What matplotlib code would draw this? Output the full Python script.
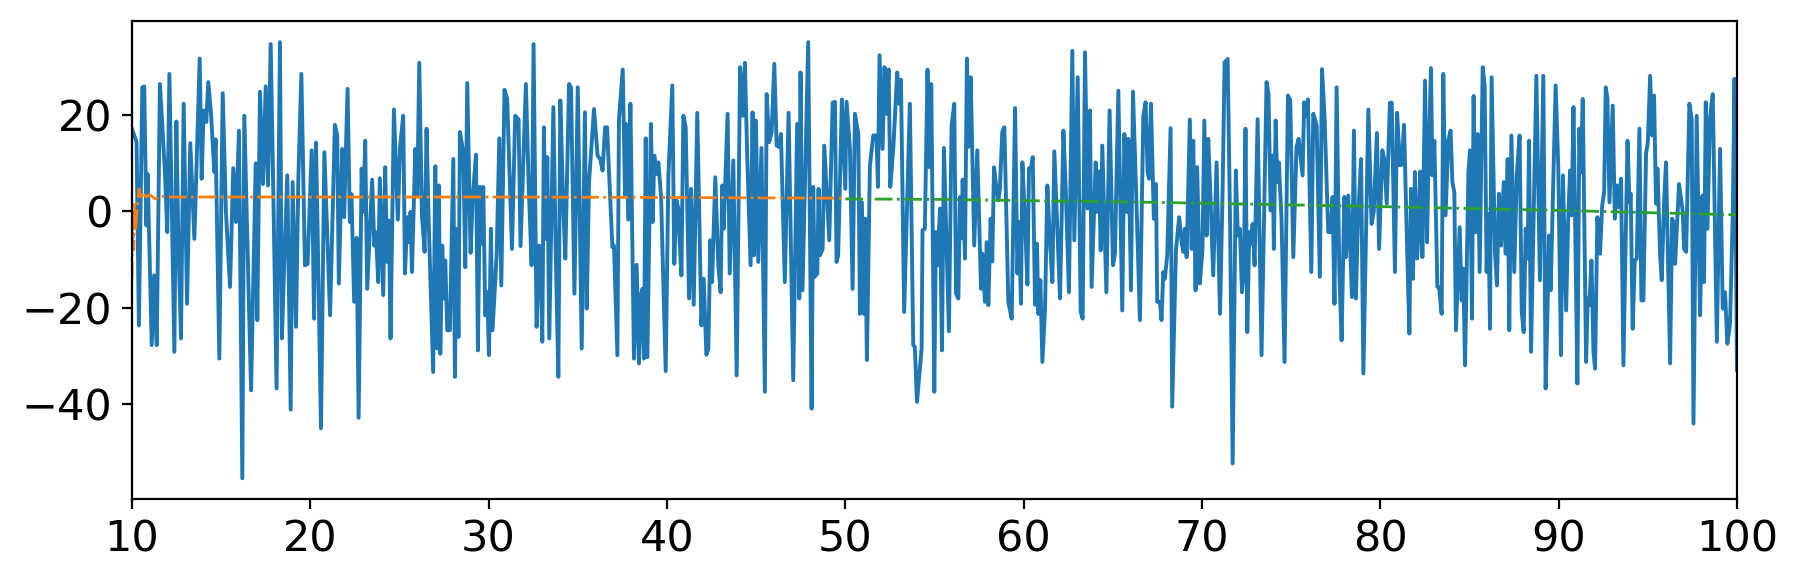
import matplotlib
matplotlib.use("Agg")
import matplotlib.pyplot as plt

# blue signal, turning points
bx = [10.0, 10.26, 10.39, 10.58, 10.69, 10.81, 10.88, 11.11, 11.24, 11.39, 11.57, 11.85, 11.98, 12.10, 12.38, 12.49, 12.60, 12.75, 12.90, 13.09,
      13.27, 13.50, 13.80, 13.91, 14.02, 14.17, 14.28, 14.43, 14.62, 14.69, 14.90, 15.09, 15.27, 15.50, 15.68, 15.83, 16.00, 16.19, 16.30, 16.68,
      16.94, 17.03, 17.18, 17.35, 17.50, 17.63, 17.78, 17.93, 18.11, 18.30, 18.41, 18.54, 18.71, 18.90, 19.01, 19.20, 19.33, 19.50, 19.70, 19.85,
      20.08, 20.21, 20.32, 20.41, 20.60, 20.79, 21.11,
      21.38, 21.51, 21.60, 21.79, 21.90, 22.09, 22.22, 22.31, 22.46, 22.60, 22.71, 22.88, 22.97, 23.08, 23.19, 23.47, 23.59, 23.68, 23.81, 23.90,
      24.09, 24.20, 24.31, 24.41, 24.50, 24.69, 24.91, 25.03, 25.21, 25.31, 25.44, 25.55, 25.62, 25.70, 25.89, 26.00, 26.11, 26.26, 26.41, 26.52,
      26.63, 26.89, 27.01, 27.12, 27.21, 27.29, 27.40, 27.49, 27.57, 27.68, 27.83, 28.02, 28.11, 28.20, 28.31, 28.39, 28.58, 28.69, 28.80, 28.99,
      29.10, 29.29, 29.40, 29.51, 29.60, 29.70, 29.81, 29.92, 30.02, 30.13, 30.22, 30.45, 30.60, 30.71, 30.89, 31.04, 31.31, 31.49, 31.68, 31.79,
      32.09, 32.24, 32.41, 32.52, 32.69, 32.84,
      32.90, 33.01, 33.10, 33.20, 33.29, 33.40, 33.63, 33.76, 33.91, 34.02, 34.19, 34.30, 34.51, 34.62, 34.81, 35.00, 35.22, 35.40, 35.50, 35.63,
      35.91, 36.11, 36.26, 36.39, 36.53, 36.64, 36.75, 36.94, 37.03, 37.22, 37.31, 37.52, 37.65, 37.70, 37.83, 37.95, 38.15, 38.30, 38.43, 38.54,
      38.62, 38.71, 38.81, 38.90, 39.10, 39.20, 39.29, 39.42, 39.52, 39.67, 39.93, 40.08, 40.30, 40.41, 40.53, 40.64, 40.71, 40.81, 40.92, 41.05,
      41.24, 41.35, 41.50, 41.70, 41.93, 42.06, 42.21, 42.32, 42.43, 42.53, 42.71, 42.88, 43.01, 43.10, 43.18, 43.40, 43.52, 43.72, 43.91, 44.10,
      44.24, 44.37, 44.50, 44.69, 44.80, 44.88, 44.99, 45.12, 45.30, 45.49, 45.59, 45.73, 45.87, 46.02, 46.15, 46.30, 46.39, 46.61, 46.82, 47.08,
      47.30, 47.42, 47.49, 47.60, 47.92, 48.11, 48.20, 48.28, 48.43, 48.50, 48.58, 48.73, 48.82, 49.10, 49.29, 49.42, 49.51, 49.60, 49.81, 50.00,
      50.07, 50.26, 50.41, 50.54, 50.73, 50.82, 50.93, 51.04, 51.12, 51.21, 51.38, 51.57, 51.75, 51.83, 51.92, 52.09, 52.20, 52.31, 52.43, 52.52,
      52.69, 52.91, 53.02, 53.12, 53.30, 53.62, 53.81, 53.90, 54.02, 54.28, 54.33, 54.46, 54.61, 54.71, 54.82, 54.99, 55.08, 55.16, 55.31, 55.42,
      55.53,
      55.81, 55.96, 56.11, 56.21, 56.34, 56.43, 56.52, 56.58, 56.71, 56.82, 56.90, 57.03, 57.23, 57.40, 57.61, 57.68, 57.83, 57.93, 58.02, 58.15,
      58.24, 58.34, 58.49, 58.58, 58.67, 58.80, 58.92, 59.14, 59.33, 59.52, 59.65, 59.74, 59.85, 59.93, 60.08, 60.21, 60.30, 60.41, 60.51, 60.64,
      60.75, 60.82, 60.94, 61.05, 61.20, 61.33, 61.48, 61.61, 61.72, 62.04, 62.23, 62.36, 62.54, 62.73, 62.84, 63.03, 63.20, 63.31, 63.44, 63.59,
      63.72, 63.81, 64.04, 64.13, 64.23, 64.32, 64.41, 64.64, 64.82, 65.01, 65.12, 65.31, 65.53, 65.65, 65.78, 65.87, 66.02, 66.13, 66.34, 66.52,
      66.71, 66.84, 66.95, 67.03, 67.14,
      67.30, 67.42, 67.49, 67.64, 67.73, 67.83, 67.92, 68.05, 68.24, 68.33, 68.54, 68.72, 68.86, 68.95, 69.04, 69.14, 69.32, 69.42, 69.51, 69.64,
      69.73, 69.88, 70.03, 70.13, 70.26, 70.35, 70.48, 70.63, 70.82, 71.01, 71.15, 71.27, 71.44, 71.58, 71.72, 71.90, 72.01, 72.13, 72.24, 72.35,
      72.44, 72.54, 72.65, 72.74, 72.84, 72.95, 73.12, 73.34, 73.62, 73.73, 73.85, 73.96, 74.03, 74.13, 74.22, 74.31, 74.46, 74.63, 74.82, 74.95,
      75.12, 75.30, 75.42, 75.64, 75.73, 75.83, 75.94, 76.13, 76.24, 76.43, 76.61, 76.73, 76.87, 77.08, 77.23, 77.32, 77.43, 77.55, 77.70, 77.83,
      77.98, 78.07, 78.20, 78.41, 78.52, 78.63, 78.74,
      78.92, 79.05, 79.33, 79.51, 79.63, 79.81, 79.93, 80.11, 80.22, 80.36, 80.54, 80.64, 80.82, 80.94, 81.10, 81.20, 81.33, 81.48, 81.63, 81.72,
      81.83, 81.94, 82.06, 82.13, 82.24, 82.36, 82.51, 82.62, 82.69, 82.84, 82.92, 83.03, 83.20, 83.29, 83.44, 83.53, 83.66, 83.81, 83.94, 84.04,
      84.15, 84.24, 84.45, 84.56, 84.65, 84.75, 84.94, 85.03, 85.14, 85.23, 85.35, 85.46, 85.57, 85.74, 85.85, 85.96, 86.06, 86.15, 86.24, 86.43,
      86.54, 86.65, 86.77, 86.92, 87.03, 87.14, 87.23, 87.35, 87.51, 87.65, 87.81, 87.93, 88.04, 88.15, 88.26, 88.34, 88.45, 88.75, 88.95, 89.14,
      89.27, 89.38, 89.46, 89.55, 89.83, 89.98, 90.13, 90.24,
      90.42, 90.53, 90.64, 90.73, 90.83, 90.92, 91.05, 91.16, 91.24, 91.35, 91.54, 91.63, 91.72, 91.84, 91.95, 92.04, 92.17, 92.32, 92.44, 92.55,
      92.64, 92.73, 92.85, 93.03, 93.15, 93.26, 93.35, 93.50, 93.63, 93.86, 93.97, 94.04, 94.15, 94.27, 94.38, 94.53, 94.64, 94.75, 94.90, 95.00,
      95.13, 95.24, 95.35, 95.46, 95.54, 95.69, 95.78, 95.91, 96.02, 96.25, 96.36, 96.44, 96.53, 96.75, 96.96, 97.03, 97.15, 97.33, 97.46, 97.56,
      97.74, 97.93, 98.06, 98.15, 98.25, 98.34, 98.49, 98.64, 98.87, 99.05, 99.20, 99.33, 99.46, 99.61, 99.76, 99.86, 100.0]
by = [17.2, 14.4, -23.7, 25.8, 26.0, -2.9, 7.8, -27.8, -13.3, -27.8, 26.5, 8.2, -4.3, 28.6, -29.2, 18.7, -5.7, -26.4, 22.4, -19.2,
      14.2, -5.7, 31.8, 6.8, 21.0, 18.6, 26.9, 20.6, 8.2, 15.0, -30.6, 24.6, -0.1, -15.7, 9.0, -2.2, 16.8, -55.5, 19.9, -37.2,
      10.0, -22.6, 24.9, 5.7, 26.0, 5.4, 34.8, 3.3, -36.8, 35.2, -26.4, -10.9, 7.5, -41.2, 6.1, -24.0, 6.8, 28.6, -11.2, -10.9,
      12.7, -22.3, 14.3, -3.6, -45.1, 12.3, -21.6,
      18.0, 15.8, -15.0, 13.0, -1.2, 25.5, -2.2, 3.6, -18.8, -5.5, -42.9, 8.9, -0.1, 14.7, -16.1, 6.6, -7.1, -4.3, -14.7, 6.9,
      -17.4, 9.2, -10.5, -1.9, -26.4, 21.2, -1.7, 13.2, 19.9, -12.9, -1.2, -6.4, -0.1, -12.6, 13.0, 3.3, 30.9, -0.8, -8.4, 17.2,
      -0.8, -33.4, 9.4, -28.5, 5.4, -29.6, -7.1, -18.1, -10.2, -24.7, -24.7, 10.9, -34.4, -3.6, -26.1, 16.5, 12.3, -11.6, 26.7, -8.6,
      2.3, 11.8, -28.9, 5.1, -6.7, 5.1, -21.6, -16.8, -29.9, -3.6, -24.7, -9.1, 15.2, -15.4, 25.3, 23.4, -7.8, 19.9, 19.1, -7.2,
      26.5, 6.1, -11.2, 34.8, -24.0, -7.1,
      -7.8, -27.1, 17.5, -5.7, 11.3, -26.4, 21.7, -7.8, -34.4, 23.1, 0.6, -9.8, 26.5, 25.8, -17.1, 25.8, -28.5, 20.6, -20.2, 6.1,
      21.3, 11.6, 10.9, 8.5, 17.5, 17.5, 8.2, -7.4, -7.1, -29.9, 19.2, 29.5, 3.3, 18.2, -1.7, 22.4, -30.6, -11.1, -31.6, -17.4,
      -16.1, -30.6, 15.2, -30.3, 18.2, -2.2, 11.6, 7.8, 10.2, 3.0, -33.2, 7.5, 26.2, -10.9, 2.3, 0.6, -6.0, -13.3, 19.9, 17.5,
      -18.1, 4.7, -19.4, 20.5, -23.7, -14.0, -29.8, -28.5, -6.0, -14.7, 7.1, -11.2, -16.8, 5.4, -3.6, 20.3, -12.9, 10.6, -34.1, 30.0,
      19.9, 30.9, 11.6, -11.2, 20.6, -9.1, 18.9, -10.5, 13.2, -37.5, 24.4, 14.4, 16.5, 30.7, 13.7, 13.4, 16.1, -14.7, 20.5, -35.1,
      18.2, -18.1, 28.9, -16.4, 35.2, -41.0, 5.1, -13.6, -12.9, 4.7, -9.1, -7.8, 13.7, -6.0, 22.6, 22.8, -10.5, -9.1, 23.3, 4.7,
      22.8, 13.0, -16.1, 20.3, 16.1, -21.3, 1.9, -21.3, -1.5, -30.9, 9.6, 15.8, 15.8, 5.1, 32.5, 13.0, 30.0, 20.3, 29.5, 5.1,
      13.0, 28.9, 22.4, 27.4, -20.9, 22.4, -27.8, -28.2, -39.6, -28.5, -3.9, -3.6, 29.5, 9.2, 26.5, -37.5, -4.3, -11.2, 0.6, -28.9,
      13.2,
      -24.9, 17.9, 22.4, -17.1, -18.1, 3.0, -5.5, 6.6, -9.8, 31.8, 13.4, 27.9, -7.1, 12.7, -16.1, -8.8, -18.8, -6.4, -19.5, -1.5,
      -10.4, 9.2, 4.4, 2.3, 4.7, 16.5, 17.5, -18.8, -22.3, 21.5, -12.9, -2.2, -19.2, 10.2, -2.2, -15.2, 9.0, 8.9, 11.3, -19.4,
      -6.7, -21.3, -14.3, -31.3, -20.2, 5.4, -6.4, -14.7, 12.5, -18.1, 16.8, 4.7, -16.8, 33.4, -6.0, 27.9, -20.9, -22.3, 33.1, 0.6,
      21.0, -15.7, 10.2, -0.1, 8.3, -8.1, 13.7, -16.8, 21.0, -11.2, -8.8, 25.1, -20.6, 16.1, -0.1, 15.1, -16.4, 24.9, 0.2, -22.6,
      19.9, 22.7, 8.2, 6.8, 22.4,
      -1.5, 5.7, -18.8, -18.8, -22.6, -12.6, -14.0, -9.1, 17.3, -40.6, -8.1, -1.2, -6.4, -8.4, -3.6, -9.5, 19.1, -7.8, 14.7, -16.4,
      9.2, -15.0, -7.8, 18.9, -5.0, 15.1, 2.6, -13.3, 10.2, -21.3, 3.0, 31.0, 31.7, -3.6, -52.4, 8.5, -5.0, -3.6, -16.8, -12.6,
      17.2, -25.1, -4.3, -6.7, -2.6, -11.2, 19.2, -29.9, 26.9, 24.4, 0.2, 11.6, -7.8, 18.9, 6.1, 10.2, -1.5, -31.3, 24.1, 23.1,
      -9.5, 13.4, 15.1, 7.5, 22.7, 19.9, 23.3, -12.6, 20.3, 17.9, -13.6, 29.6, 19.9, -4.3, -4.3, 3.0, -19.2, 25.8, -12.6, -26.8,
      3.0, -9.5, 3.3, -17.8, 16.8, -18.1, -2.6,
      10.9, -33.7, 21.2, -2.6, -0.1, 16.3, -7.8, 12.7, 10.9, 1.6, 22.6, 22.6, -12.6, 20.5, 9.6, 9.7, 18.0, -4.3, -25.4, 4.7,
      -14.0, 8.2, -9.8, -5.3, 8.3, -9.5, 27.2, -6.4, 8.2, 29.8, 7.5, 14.7, -15.7, -15.7, -21.3, 28.6, -0.8, 14.7, 16.8, 6.1,
      4.0, -24.7, -3.3, -18.5, -11.9, -32.0, 8.2, 12.7, -22.3, 24.0, -4.3, 16.1, -12.6, 30.0, 26.2, -12.6, -0.5, -24.4, 27.9, -8.4,
      -15.4, 3.7, -7.1, 6.1, -8.8, 10.9, -24.7, 15.8, -12.6, 7.5, 15.8, -20.9, -25.1, -3.6, -9.8, 14.7, -29.2, 28.2, -14.3, 28.2,
      -36.8, -19.5, -5.0, -16.4, 26.2, 9.2, -29.9, 7.5,
      -20.6, -2.2, 8.5, -0.8, 21.7, -0.8, -35.8, 17.2, 8.2, 23.4, -31.3, -18.1, -19.5, -10.2, -29.2, -32.7, -1.2, -8.8, 1.2, 4.0,
      25.8, 23.7, 1.9, 22.0, -1.5, 5.4, 0.9, 6.8, -32.0, 14.7, 1.9, 3.7, -24.4, -10.2, -9.8, 17.2, -18.5, -18.5, 12.0, 14.4,
      28.2, 15.8, 24.1, 1.6, 8.9, -9.1, -14.3, 1.9, 10.2, -31.6, -1.5, -2.2, -10.9, 5.7, -0.1, -7.8, -8.4, 22.4, 19.2, -44.1,
      19.9, -21.6, 3.3, -14.7, 22.7, -3.6, 19.6, 24.4, -27.1, 13.0, -20.2, -16.8, -27.5, -23.3, -0.8, 27.6, -33.0]

# orange: first segment (10 - 50)
ox = [10.0, 10.05, 10.1, 10.15, 10.2, 10.3, 10.4, 10.5, 10.6, 10.8, 11.0, 11.3, 11.6, 12.0, 20.0, 30.0, 40.0, 50.0]
oy = [-14.0, -1.0, -8.0, 2.0, -4.0, 1.0, 4.7, 2.5, 4.0, 3.0, 3.5, 2.6, 3.2, 3.0, 3.0, 3.0, 2.9, 2.75]

# green: second segment (50 - 100)
gx = [50.0, 55.6, 61.0, 67.3, 73.0, 78.8, 84.5, 90.3, 95.0, 100.0]
gy = [2.6, 2.5, 2.2, 1.9, 1.5, 1.1, 0.65, 0.2, -0.25, -0.7]

print(len(bx), len(by))

#%%
fig = plt.figure(figsize=(9, 2.91), dpi=200)
ax = fig.add_axes([0.0733, 0.1426, 0.8917, 0.8213])
ax.plot(bx, by, color='C0', lw=1.4)
ax.plot(ox, oy, color='C1', lw=1.0, ls='-.')
ax.plot(gx, gy, color='C2', lw=1.0, ls='-.')

ax.set_xlim(10, 100)
ax.set_ylim(-59.8, 39.6)
ax.set_yticks([-40, -20, 0, 20])
ax.tick_params(labelsize=15.5)

fig.savefig("out.png", dpi=200)
